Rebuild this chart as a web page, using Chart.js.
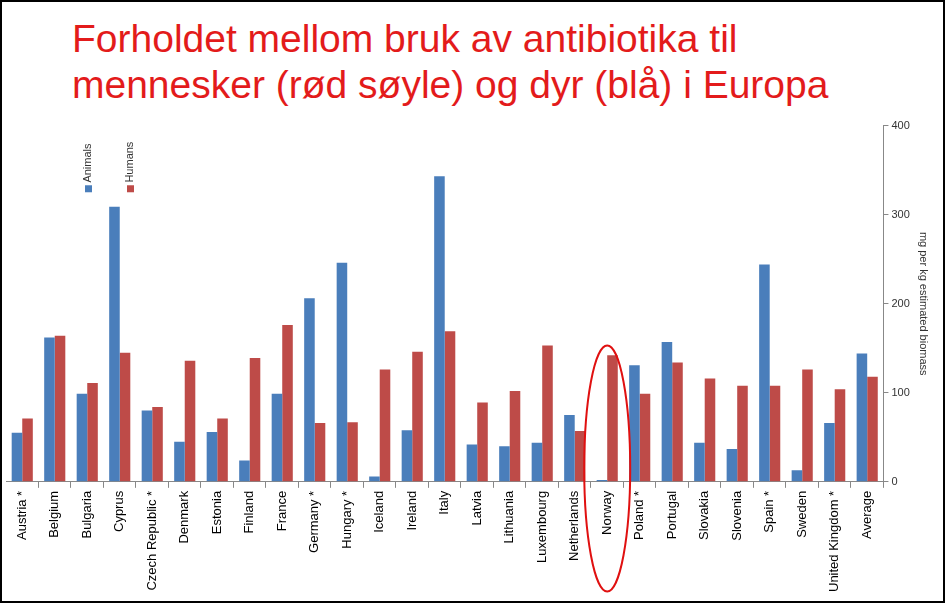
<!DOCTYPE html>
<html><head><meta charset="utf-8">
<script src="https://cdn.jsdelivr.net/npm/chart.js@4/dist/chart.umd.min.js"></script>
<style>
html,body{margin:0;padding:0;background:#fff;}
#frame{position:absolute;left:0;top:0;width:941px;height:599px;border:2px solid #000;overflow:hidden;}
#title{position:absolute;left:70px;top:14px;font-family:"Liberation Sans",Arial,sans-serif;font-size:39px;line-height:46px;color:#e31b1b;}
#wrap{position:absolute;left:4px;top:114px;width:928px;height:479px;}
</style></head><body>
<div id="frame">
<div id="title">Forholdet mellom bruk av antibiotika til<br>mennesker (rød søyle) og dyr (blå) i Europa</div>
<div id="wrap"><canvas id="c"></canvas></div>
</div>
<script>
const categories=["Austria *","Belgium","Bulgaria","Cyprus","Czech Republic *","Denmark","Estonia","Finland","France","Germany *","Hungary *","Iceland","Ireland","Italy","Latvia","Lithuania","Luxembourg","Netherlands","Norway","Poland *","Portugal","Slovakia","Slovenia","Spain *","Sweden","United Kingdom *","Average"];
const animals=[55,162,99,309,80,45,56,24,99,206,246,6,58,343,42,40,44,75,2,131,157,44,37,244,13,66,144];
const humans=[71,164,111,145,84,136,71,139,176,66,67,126,146,169,89,102,153,57,142,99,134,116,108,108,126,104,118];
const yTicks=[0,100,200,300,400];
const highlight="Norway";
const deco={id:'deco',afterDraw(ch){
  const c=ch.ctx,x=ch.scales.x,y=ch.scales.y;
  c.save();c.font='11px "Liberation Sans",Arial';
  [["Animals","#4a7ebb",82],["Humans","#be4b48",124]].forEach(([t,col,px])=>{
    c.fillStyle=col;c.fillRect(px-3,y.getPixelForValue(333),7,7);
    c.save();c.translate(px+4,y.getPixelForValue(336));c.rotate(-Math.PI/2);c.fillStyle='#333';c.textBaseline='middle';c.fillText(t,0,-4);c.restore();
  });
  const i=categories.indexOf(highlight);const cx=x.getPixelForValue(i);
  c.strokeStyle='#e01010';c.lineWidth=2;c.beginPath();
  c.ellipse(cx,y.getPixelForValue(15),23,123,0,0,Math.PI*2);c.stroke();
  c.restore();
}};
new Chart(document.getElementById('c'),{type:'bar',
 data:{labels:categories,datasets:[
  {label:'Animals',data:animals,backgroundColor:'#4a7ebb'},
  {label:'Humans',data:humans,backgroundColor:'#be4b48'}]},
 options:{responsive:true,maintainAspectRatio:false,animation:false,
  layout:{padding:{top:4,right:0,left:0,bottom:0}},
  datasets:{bar:{categoryPercentage:0.65,barPercentage:1}},
  plugins:{legend:{display:false},tooltip:{enabled:false}},
  scales:{
   x:{grid:{display:true,drawOnChartArea:false,offset:true,tickLength:6,color:'#888'},border:{color:'#888'},
      ticks:{minRotation:90,maxRotation:90,autoSkip:false,color:'#000',font:{size:13,family:'"Liberation Sans Narrow","Liberation Sans",Arial'}}},
   y:{position:'right',min:0,max:400,afterBuildTicks(a){a.ticks=yTicks.map(v=>({value:v}));},
      grid:{drawOnChartArea:false,tickLength:5,color:'#888'},border:{color:'#888'},
      ticks:{color:'#333',font:{size:11}},
      title:{display:true,text:'mg per kg estimated biomass',color:'#333',font:{size:11}}}
  }},
 plugins:[deco]});
</script></body></html>
